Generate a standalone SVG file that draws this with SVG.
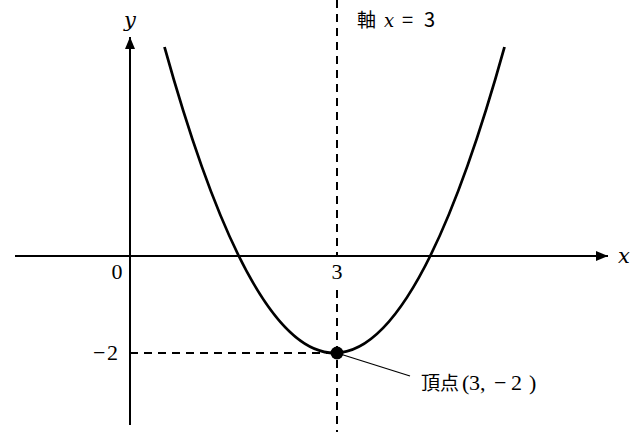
<svg xmlns="http://www.w3.org/2000/svg" width="640" height="432" viewBox="0 0 640 432">
<defs>
<style>
.axis{stroke:#000;stroke-width:2;fill:none}
.dash{stroke:#000;stroke-width:2;stroke-dasharray:8 6;fill:none}
.curve{stroke:#000;stroke-width:2.8;fill:none}
.serif{font-family:"Liberation Serif","DejaVu Serif",serif;fill:#000}
.ital{font-family:"DejaVu Serif","Liberation Serif",serif;font-style:italic;fill:#000}
.cjk{font-family:"Noto Sans CJK JP","Noto Sans",sans-serif;fill:#000}
</style>
<marker id="arrow" viewBox="0 0 12 10" refX="12" refY="5" markerWidth="12" markerHeight="10" markerUnits="userSpaceOnUse" orient="auto">
<path d="M0,0 L12,5 L0,10 Z" fill="#000"/>
</marker>
</defs>
<rect width="640" height="432" fill="#fff"/>
<g id="axes">
<line class="axis" x1="15" y1="256" x2="608" y2="256" marker-end="url(#arrow)"/>
<line class="axis" x1="130" y1="425" x2="130" y2="37" marker-end="url(#arrow)"/>
<text class="ital" x="130" y="27" font-size="21" text-anchor="middle">y</text>
<text class="ital" x="618" y="263" font-size="21">x</text>
<text class="serif" x="117" y="279" font-size="22" text-anchor="middle">0</text>
<text class="serif" x="337" y="279" font-size="22" text-anchor="middle">3</text>
<text class="serif" y="360" font-size="22"><tspan x="93">−</tspan><tspan x="107">2</tspan></text>
</g>
<g id="connectors">
<line class="dash" x1="337" y1="0" x2="337" y2="257"/>
<line class="dash" x1="337" y1="290" x2="337" y2="432"/>
<line class="dash" x1="130" y1="353" x2="337" y2="353"/>
<line x1="337" y1="353" x2="410" y2="376" stroke="#000" stroke-width="1.3"/>
</g>
<g id="parabola">
<path class="curve" d="M164.5,47 Q334.5,659 504.5,47"/>
</g>
<g id="vertex">
<circle cx="337" cy="353" r="6.5" fill="#000"/>
<text font-size="22" y="390"><tspan class="cjk" x="421" font-size="19">頂点</tspan><tspan class="serif" x="462 469 480 485 494 511 529">(3, −2)</tspan></text>
</g>
<g id="axis-label">
<text font-size="20" y="27"><tspan class="cjk" x="357" font-size="19">軸</tspan> <tspan class="ital" x="384" font-size="18">x</tspan> <tspan class="cjk" x="402">=</tspan> <tspan class="cjk" x="424">3</tspan></text>
</g>
</svg>
